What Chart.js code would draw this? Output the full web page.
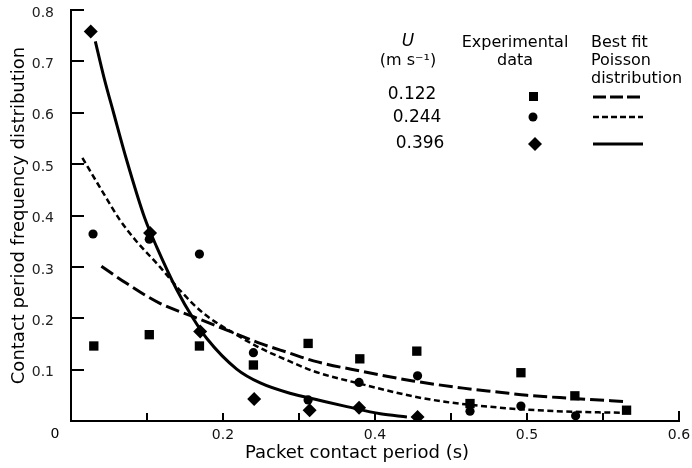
<!DOCTYPE html>
<html>
<head>
<meta charset="utf-8">
<script src="https://cdn.jsdelivr.net/npm/chart.js@4.4.1/dist/chart.umd.min.js"></script>
<style>
  html, body { margin: 0; padding: 0; background: #fff; }
</style>
</head>
<body>
<canvas id="chart" width="692" height="468"></canvas>
<script>
// x positions are in axis units: one minor tick = 0.1, printed labels every other tick
const xTickLabels = ["", "", "0.2", "", "0.4", "", "0.5", "", "0.6"];

// experimental data, U = 0.122 / 0.244 / 0.396 m/s
const exp122 = [[0.030, 0.146], [0.103, 0.168], [0.169, 0.146], [0.240, 0.109], [0.312, 0.151], [0.380, 0.121],
  [0.455, 0.136], [0.525, 0.034], [0.592, 0.094], [0.663, 0.049], [0.731, 0.021]];
const exp244 = [[0.029, 0.364], [0.103, 0.354], [0.169, 0.325], [0.240, 0.133], [0.312, 0.041], [0.379, 0.075],
  [0.456, 0.088], [0.525, 0.019], [0.592, 0.029], [0.664, 0.010]];
const exp396 = [[0.026, 0.758], [0.104, 0.366], [0.170, 0.174], [0.241, 0.043], [0.314, 0.021], [0.379, 0.026],
  [0.456, 0.008]];

// best fit Poisson curves
const fit122X = [0.040, 0.073, 0.117, 0.161, 0.205, 0.249, 0.288, 0.319, 0.385, 0.450, 0.516, 0.564, 0.600, 0.661, 0.727];
const fit122Y = [0.301, 0.268, 0.229, 0.203, 0.177, 0.151, 0.132, 0.117, 0.096, 0.078, 0.064, 0.056, 0.050, 0.044, 0.038];
const fit244X = [0.015, 0.042, 0.064, 0.086, 0.117, 0.143, 0.174, 0.214, 0.249, 0.288, 0.319, 0.379, 0.450, 0.494, 0.564, 0.600, 0.661, 0.727];
const fit244Y = [0.512, 0.445, 0.392, 0.350, 0.300, 0.255, 0.210, 0.171, 0.142, 0.116, 0.097, 0.073, 0.048, 0.037, 0.026, 0.022, 0.018, 0.016];
const fit396X = [0.032, 0.043, 0.056, 0.073, 0.097, 0.113, 0.139, 0.161, 0.179, 0.218, 0.249, 0.288, 0.328, 0.363, 0.407, 0.442];
const fit396Y = [0.739, 0.671, 0.600, 0.509, 0.395, 0.338, 0.256, 0.199, 0.160, 0.101, 0.074, 0.054, 0.040, 0.028, 0.014, 0.008];

const FONT = "'DejaVu Sans', sans-serif";

const toPts = (arr) => arr.map(([x, y]) => ({ x, y }));
const zip = (xs, ys) => xs.map((x, i) => ({ x, y: ys[i] }));

function fitLine(data, dash, width) {
  return {
    type: "line",
    data,
    borderColor: "#000",
    borderWidth: width,
    borderDash: dash,
    pointRadius: 0,
    cubicInterpolationMode: "monotone",
    fill: false,
    order: 2,
  };
}

function marks(data, style, radius) {
  return {
    type: "scatter",
    data,
    pointStyle: style,
    pointRadius: radius,
    pointBackgroundColor: "#000",
    pointBorderColor: "#000",
    pointBorderWidth: 0,
    order: 1,
  };
}

// inside tick marks, x title, the stray "0" and the key
const decor = {
  id: "decor",
  afterDraw(chart) {
    const { ctx, chartArea, scales } = chart;
    const x = scales.x, y = scales.y;
    ctx.save();
    ctx.strokeStyle = "#000";
    ctx.lineWidth = 2;
    ctx.beginPath();
    for (let v = 1; v <= 8; v++) {
      const py = Math.round(y.getPixelForValue(v / 10));
      ctx.moveTo(chartArea.left, py);
      ctx.lineTo(chartArea.left + 13, py);
      const px = Math.round(x.getPixelForValue(v / 10));
      ctx.moveTo(px, chartArea.bottom);
      ctx.lineTo(px, chartArea.bottom - (v === 8 ? 10 : 8));
    }
    ctx.stroke();

    ctx.fillStyle = "#000";
    ctx.textBaseline = "middle";
    ctx.textAlign = "center";
    ctx.font = `14px ${FONT}`;
    ctx.fillText("0", chartArea.left - 16, 434);
    ctx.font = `18px ${FONT}`;
    ctx.fillText("Packet contact period (s)", 357, 453);

    // key
    ctx.font = `italic 17px ${FONT}`;
    ctx.fillText("U", 408, 42);
    ctx.font = `16px ${FONT}`;
    ctx.fillText("(m s\u207B\u00B9)", 408, 61);
    ctx.fillText("Experimental", 515, 43);
    ctx.fillText("data", 515, 61);
    ctx.textAlign = "left";
    ctx.fillText("Best fit", 591, 43);
    ctx.fillText("Poisson", 591, 61);
    ctx.fillText("distribution", 591, 79);
    ctx.textAlign = "center";
    ctx.font = `17px ${FONT}`;
    ctx.fillText("0.122", 412, 95);
    ctx.fillText("0.244", 417, 118);
    ctx.fillText("0.396", 420, 144);

    ctx.fillRect(529, 92, 9, 9);
    ctx.beginPath();
    ctx.arc(533, 117, 4.5, 0, Math.PI * 2);
    ctx.fill();
    ctx.beginPath();
    ctx.moveTo(535, 137); ctx.lineTo(542, 144); ctx.lineTo(535, 151); ctx.lineTo(528, 144);
    ctx.closePath();
    ctx.fill();

    ctx.lineWidth = 3;
    ctx.setLineDash([13, 4]);
    ctx.beginPath(); ctx.moveTo(593, 97); ctx.lineTo(643, 97); ctx.stroke();
    ctx.lineWidth = 2.5;
    ctx.setLineDash([6, 3]);
    ctx.beginPath(); ctx.moveTo(593, 117); ctx.lineTo(643, 117); ctx.stroke();
    ctx.lineWidth = 3;
    ctx.setLineDash([]);
    ctx.beginPath(); ctx.moveTo(593, 144); ctx.lineTo(643, 144); ctx.stroke();
    ctx.restore();
  },
};

new Chart(document.getElementById("chart"), {
  data: {
    datasets: [
      marks(toPts(exp122), "rect", 6.6),
      marks(toPts(exp244), "circle", 4.6),
      marks(toPts(exp396), "rectRot", 7),
      fitLine(zip(fit122X, fit122Y), [14, 5], 3),
      fitLine(zip(fit244X, fit244Y), [6, 3.5], 2.5),
      fitLine(zip(fit396X, fit396Y), [], 3),
    ],
  },
  options: {
    responsive: false,
    animation: false,
    layout: { padding: { top: 10, right: 13, left: 0, bottom: 0 } },
    plugins: { legend: { display: false }, tooltip: { enabled: false } },
    scales: {
      x: {
        type: "linear",
        min: 0,
        max: 0.8,
        afterFit: (s) => { s.height = 47; s.paddingLeft = 0; s.paddingRight = 0; },
        afterBuildTicks: (s) => { s.ticks = xTickLabels.map((_, i) => ({ value: i / 10 })); },
        grid: { display: true, drawOnChartArea: false, drawTicks: false },
        border: { display: true, color: "#000", width: 2 },
        ticks: {
          padding: 6,
          color: "#111",
          font: { family: FONT, size: 14 },
          maxRotation: 0,
          autoSkip: false,
          callback: (v, i) => xTickLabels[i],
        },
      },
      y: {
        type: "linear",
        min: 0,
        max: 0.8,
        afterFit: (s) => { s.width = 71; s.paddingTop = 0; s.paddingBottom = 0; },
        grid: { display: true, drawOnChartArea: false, drawTicks: false },
        border: { display: true, color: "#000", width: 2 },
        ticks: {
          stepSize: 0.1,
          padding: 17,
          labelOffset: 3,
          color: "#222",
          font: { family: FONT, size: 14 },
          callback: (v) => (v === 0 ? "" : v.toFixed(1)),
        },
        title: {
          display: true,
          text: "Contact period frequency distribution",
          color: "#000",
          font: { family: FONT, size: 18 },
          padding: { top: 9, bottom: 0 },
        },
      },
    },
  },
  plugins: [decor],
});
</script>
</body>
</html>
